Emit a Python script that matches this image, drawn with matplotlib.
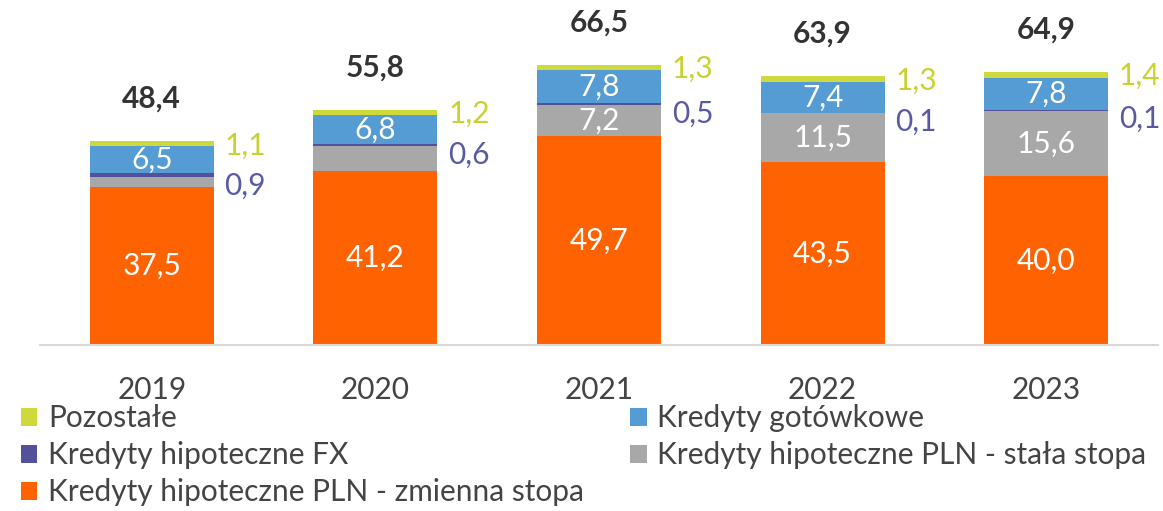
import matplotlib.pyplot as plt
import numpy as np

plt.rcParams["font.family"] = ["Lato", "DejaVu Sans"]

years = ["2019", "2020", "2021", "2022", "2023"]
pln_zmienna = [37.5, 41.2, 49.7, 43.5, 40.0]
pln_stala = [2.4, 6.0, 7.2, 11.5, 15.6]
hip_fx = [0.9, 0.6, 0.5, 0.1, 0.1]
gotowkowe = [6.5, 6.8, 7.8, 7.4, 7.8]
pozostale = [1.1, 1.2, 1.3, 1.3, 1.4]
totals = [48.4, 55.8, 66.5, 63.9, 64.9]
# szare etykiety pokazane tylko dla lat 2021-2023
show_stala = [False, False, True, True, True]

c_orange = "#FF6200"
c_gray = "#A8A8A8"
c_fx = "#525199"
c_blue = "#559BD4"
c_other = "#D0D93C"


def fmt(v):
    return f"{v:.1f}".replace(".", ",")


fig = plt.figure(figsize=(11.63, 5.11), dpi=100)
ax = fig.add_axes([40 / 1163, 1 - 345 / 511, 1118 / 1163, 337 / 511])

x = np.arange(len(years))
w = 0.555
series = [
    (pln_zmienna, c_orange, "Kredyty hipoteczne PLN - zmienna stopa"),
    (pln_stala, c_gray, "Kredyty hipoteczne PLN - stała stopa"),
    (hip_fx, c_fx, "Kredyty hipoteczne FX"),
    (gotowkowe, c_blue, "Kredyty gotówkowe"),
    (pozostale, c_other, "Pozostałe"),
]
bottom = np.zeros(len(years))
handles = {}
for vals, col, name in series:
    bars = ax.bar(x, vals, w, bottom=bottom, color=col, label=name)
    handles[name] = bars
    bottom = bottom + np.array(vals)

fs = 21.5
for i in range(len(years)):
    ax.text(x[i], pln_zmienna[i] / 2, fmt(pln_zmienna[i]), ha="center", va="center",
            color="white", fontsize=fs)
    if show_stala[i]:
        ax.text(x[i], pln_zmienna[i] + pln_stala[i] / 2, fmt(pln_stala[i]),
                ha="center", va="center", color="white", fontsize=fs)
    base = pln_zmienna[i] + pln_stala[i] + hip_fx[i]
    ax.text(x[i], base + gotowkowe[i] / 2, fmt(gotowkowe[i]), ha="center", va="center",
            color="white", fontsize=fs)
    top = base + gotowkowe[i] + pozostale[i]
    ax.text(x[i] + 0.325, top - 1.0, fmt(pozostale[i]), ha="left", va="center",
            color="#C8D232", fontsize=fs)
    ax.text(x[i] + 0.325, pln_zmienna[i] + pln_stala[i] - 2.0, fmt(hip_fx[i]),
            ha="left", va="center", color="#5A59A3", fontsize=fs)
    ax.text(x[i], totals[i] + 10.0, fmt(totals[i]), ha="center", va="center",
            color="#333333", fontsize=fs, fontweight="bold")

ax.set_xlim(-0.5, len(years) - 0.5)
ax.set_ylim(0, 80)
ax.set_xticks(x)
ax.set_xticklabels(years, fontsize=fs, color="#444444")
ax.tick_params(axis="x", length=0, pad=22)
ax.set_yticks([])
for s in ["top", "right", "left"]:
    ax.spines[s].set_visible(False)
ax.spines["bottom"].set_color("#D9D9D9")
ax.spines["bottom"].set_linewidth(1.5)

order = ["Pozostałe", "Kredyty hipoteczne FX", "Kredyty hipoteczne PLN - zmienna stopa",
         "Kredyty gotówkowe", "Kredyty hipoteczne PLN - stała stopa"]
leg = fig.legend([handles[n] for n in order], order, loc="upper left",
                 bbox_to_anchor=(0.018, 0.209), ncol=2, frameon=False, fontsize=fs,
                 handlelength=0.55, handleheight=0.55, handletextpad=0.35,
                 columnspacing=1.55, labelspacing=0.3, borderaxespad=0, borderpad=0,
                 labelcolor="#444444")

fig.savefig("out.png", dpi=100)
